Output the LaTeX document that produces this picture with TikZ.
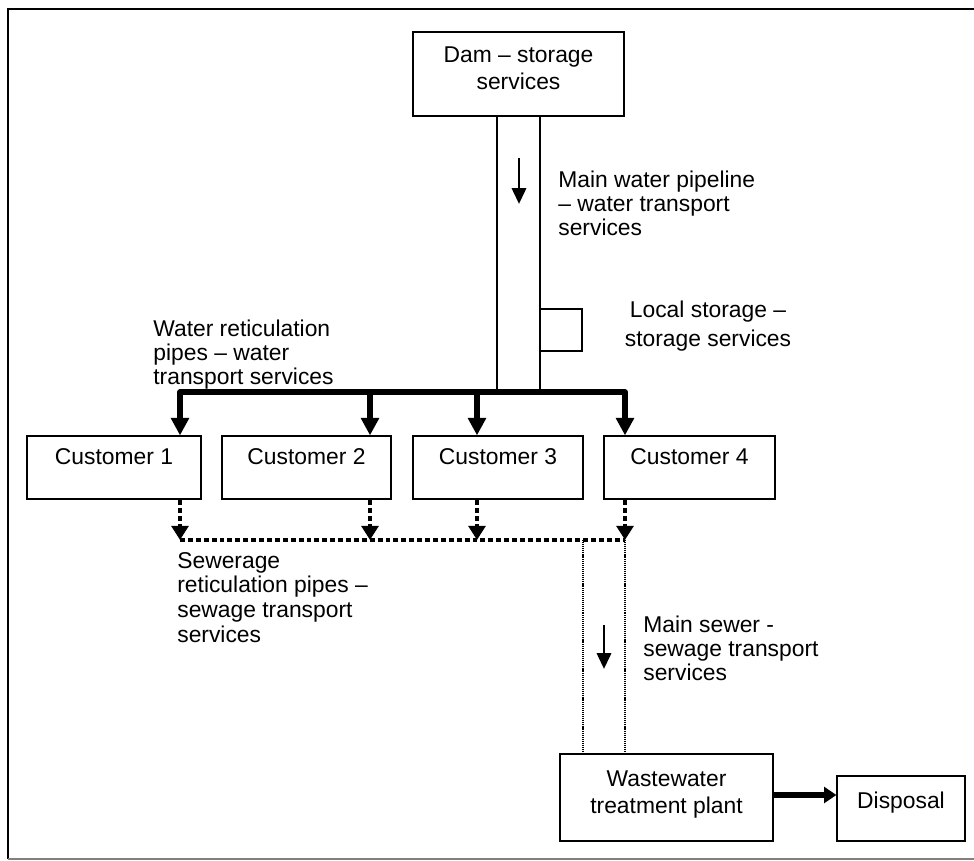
\documentclass[tikz,border=0pt]{standalone}
\usepackage{fontspec}
\setmainfont{Liberation Sans}
\usetikzlibrary{arrows.meta}

\def\px{0.02}
\tikzset{
    box/.style={draw, line width=0.7pt, inner sep=0pt, align=center, font=\fontsize{13}{15.5}\selectfont},
    cust/.style={box, minimum height=63*\px cm, text depth=12pt},
    lbl/.style={inner sep=0pt, align=left, font=\fontsize{13}{13.6}\selectfont},
    pipe/.style={line width=0.7pt},
    flow/.style={line width=1.7pt, -{Triangle[length=9pt,width=8pt]}},
    bar/.style={line width=3pt, line join=round},
    sewer/.style={line width=2.8pt, dash pattern=on 2.8pt off 1.8pt},
    sewerline/.style={line width=2.3pt, dash pattern=on 2.8pt off 1.7pt},
    mainsewer/.style={line width=0.8pt, dash pattern=on 0.6pt off 0.5pt},
    wt/.tip={Triangle[length=10pt,width=10pt]},
    st/.tip={Triangle[length=8pt,width=9.5pt]},
    dt/.tip={Triangle[length=7pt,width=9pt]},
}

\begin{document}
\begin{tikzpicture}[x=\px cm, y=-\px cm]
    \useasboundingbox (0,0) rectangle (974,861);
    % frame
    \draw[line width=0.9pt] (974,9) -- (8,9) -- (8,859);
    \draw[gray, line width=0.9pt] (8,859) -- (974,859);

    % boxes
    \node[box, minimum width=211*\px cm, minimum height=84*\px cm, text depth=6.8pt] (dam) at (518.5,74) {Dam – storage\\services};
    \node[draw, line width=0.7pt, inner sep=0pt, minimum width=42*\px cm, minimum height=42*\px cm] (ls) at (561,330) {};
    \foreach[count=\i] \cx/\w in {114/174, 306.5/169, 498/170, 689.5/171} {
        \node[cust, minimum width=\w*\px cm] (c\i) at (\cx,467.5) {Customer \i};
    }
    \node[box, minimum width=213*\px cm, minimum height=87*\px cm, text depth=6.3pt] (ww) at (666.5,797.5) {Wastewater\\treatment plant};
    \node[box, minimum width=128*\px cm, minimum height=65*\px cm, text depth=9.7pt] (disp) at (901,808.5) {Disposal};

    % labels
    \node[lbl, anchor=north west] (lblmain) at (558,171) {Main water pipeline\\– water transport\\services};
    \node[lbl, anchor=north, align=center, font=\fontsize{13}{16}\selectfont] (lbllocal) at (708,301) {Local storage –\\storage services};
    \node[lbl, anchor=north west] (lblret) at (153,320) {Water reticulation\\pipes – water\\transport services};
    \node[lbl, anchor=north west, font=\fontsize{13}{14}\selectfont] (lblsew) at (177,552) {Sewerage\\reticulation pipes –\\sewage transport\\services};
    \node[lbl, anchor=north west] (lblmainsewer) at (643,616) {Main sewer -\\sewage transport\\services};

    % main water pipeline
    \coordinate (pl) at (497,392);
    \coordinate (pr) at (540,392);
    \draw[pipe] (pl |- dam.south) -- (pl);
    \draw[pipe] (pr |- dam.south) -- (pr);
    \coordinate (pa) at (519,158);
    \coordinate (pb) at (519,204);
    \draw[flow] (pa) -- (pb);

    % water reticulation
    \foreach[count=\i] \x in {180,370,477,625} {
        \coordinate (w\i) at (\x,392);
        \coordinate (s\i) at (\x,540);
    }
    \draw[bar, wt-wt] (w1 |- c1.north) -- (w1) -- (w4) -- (w4 |- c4.north);
    \foreach \i in {2,3} {
        \draw[bar, -wt] (w\i) -- (w\i |- c\i.north);
    }

    % sewerage reticulation
    \draw[sewerline] (s1) -- (s4);
    \foreach \i in {1,...,4} {
        \draw[sewer, -st] (s\i |- c\i.south) -- (s\i);
    }

    % main sewer
    \coordinate (ms) at (583,540);
    \draw[mainsewer] (ms) -- (ms |- ww.north);
    \draw[mainsewer] (s4) -- (s4 |- ww.north);
    \coordinate (sa) at (604,625);
    \coordinate (sb) at (604,669);
    \draw[flow] (sa) -- (sb);

    % to disposal
    \coordinate (dy) at (0,795);
    \draw[line width=3pt, -dt] (ww.east |- dy) -- (disp.west |- dy);
\end{tikzpicture}
\end{document}
